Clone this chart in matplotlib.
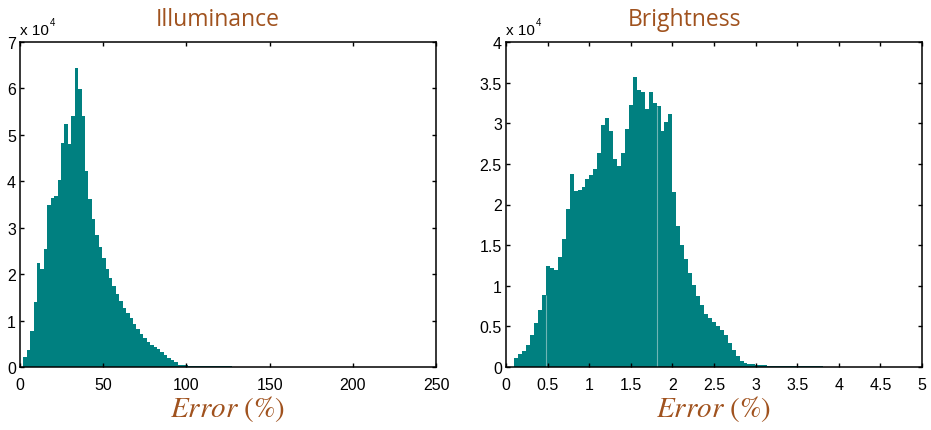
import numpy as np
import matplotlib.pyplot as plt

plt.rcParams['font.family'] = ['Liberation Sans', 'DejaVu Sans']
plt.rcParams['mathtext.fontset'] = 'stix'

TEAL = '#008080'
BROWN = '#A0521E'

# Illuminance error histogram, counts in units of 1e4
illum_start, illum_width = 2.0, 2.06
illum_counts = [
    0.22, 0.36, 0.77, 1.40, 2.23, 2.11, 2.54, 3.49, 3.65, 3.68,
    4.02, 4.83, 5.24, 4.81, 5.41, 6.45, 5.98, 5.41, 4.23, 3.62,
    3.18, 2.85, 2.58, 2.34, 2.12, 1.92, 1.74, 1.57, 1.43, 1.28,
    1.16, 1.05, 0.93, 0.81, 0.72, 0.63, 0.54, 0.48, 0.44, 0.39,
    0.33, 0.25, 0.20, 0.155, 0.10, 0.05, 0.05, 0.05, 0.03, 0.03,
    0.03, 0.03, 0.03, 0.03, 0.03, 0.03, 0.03, 0.03, 0.03, 0.03,
    0.03, 0.01, 0.01, 0.01, 0.01, 0.01, 0.01, 0.01, 0.01, 0.01,
    0.01, 0.01, 0.01, 0.01, 0.01, 0.01, 0.01, 0.01, 0.01, 0.01,
    0.01, 0.01, 0.01, 0.01, 0.01, 0.01, 0.01, 0.01, 0.01, 0.01,
    0.01, 0.01, 0.01, 0.01, 0.01, 0.01, 0.01, 0.01, 0.01, 0.01,
]

# Brightness error histogram, counts in units of 1e4
bright_start, bright_width = 0.1, 0.0475
bright_counts = [
    0.105, 0.16, 0.20, 0.27, 0.40, 0.54, 0.70, 0.89, 1.245, 1.22,
    1.19, 1.35, 1.58, 1.94, 2.37, 2.17, 2.18, 2.22, 2.32, 2.36,
    2.44, 2.64, 2.98, 3.07, 2.91, 2.56, 2.48, 2.64, 2.93, 3.23,
    3.57, 3.41, 3.38, 3.18, 3.38, 3.25, 3.21, 2.91, 3.02, 3.11,
    2.16, 1.73, 1.50, 1.33, 1.16, 1.01, 0.88, 0.76, 0.65, 0.60,
    0.55, 0.50, 0.45, 0.39, 0.30, 0.21, 0.13, 0.07, 0.047, 0.035,
    0.035, 0.022, 0.022, 0.022, 0.015, 0.015, 0.015, 0.015, 0.015, 0.015,
    0.015, 0.015, 0.015, 0.015, 0.015, 0.015, 0.015, 0.015, 0.005, 0.005,
    0.005, 0.005, 0.005, 0.005, 0.005, 0.005, 0.005, 0.005, 0.005, 0.005,
    0.005, 0.005, 0.005, 0.005, 0.005, 0.005, 0.005, 0.005, 0.005, 0.005,
]
# thin light seams inside the brightness bars (bin index of the edge)
bright_seams = [8, 36]

W, H = 931, 431
fig = plt.figure(figsize=(W / 100, H / 100), dpi=100)
ax1 = fig.add_axes([20 / W, 63 / H, 416 / W, 325 / H])
ax2 = fig.add_axes([506 / W, 63 / H, 416 / W, 325 / H])


def draw_hist(ax, start, width, counts, xmax, xticks, ymax, yticks, title, title_x):
    counts = np.array(counts)
    edges = start + width * np.arange(len(counts) + 1)
    ax.stairs(counts, edges, fill=True, color=TEAL, linewidth=0)
    ax.set_xlim(0, xmax)
    ax.set_ylim(0, ymax)
    ax.set_xticks(xticks)
    ax.set_yticks(yticks)
    ax.set_xticklabels([f'{t:g}' for t in xticks])
    ax.set_yticklabels([f'{t:g}' for t in yticks])
    ax.tick_params(direction='in', top=True, right=True, length=3,
                   width=1, labelsize=11.5)
    ax.tick_params(axis='x', pad=7)
    ax.tick_params(axis='y', pad=3)
    for s in ax.spines.values():
        s.set_linewidth(1.1)
    ax.set_xlabel(r'$Error\ (\%)$', fontsize=21, color=BROWN, labelpad=1)
    ax.text(title_x, 1.052, title, transform=ax.transAxes, ha='center',
            va='baseline', fontsize=16.5, color=BROWN, family='Open Sans')
    t = ax.text(0.0, 1.025, 'x 10', transform=ax.transAxes, ha='left',
                va='baseline', fontsize=11)
    ax.annotate('4', xy=(1, 1), xycoords=t, xytext=(0.5, -3),
                textcoords='offset points', ha='left', va='bottom', fontsize=7)
    return edges, counts


draw_hist(ax1, illum_start, illum_width, illum_counts, 250,
          [0, 50, 100, 150, 200, 250], 7, list(range(8)),
          'Illuminance', 0.476)
edges, counts = draw_hist(ax2, bright_start, bright_width, bright_counts, 5,
                          [0, 0.5, 1, 1.5, 2, 2.5, 3, 3.5, 4, 4.5, 5], 4,
                          [0, 0.5, 1, 1.5, 2, 2.5, 3, 3.5, 4],
                          'Brightness', 0.43)
for i in bright_seams:
    ax2.vlines(edges[i], 0, min(counts[i - 1], counts[i]),
               color='#6FB5B5', linewidth=0.8)

fig.savefig('out.png', dpi=100)
